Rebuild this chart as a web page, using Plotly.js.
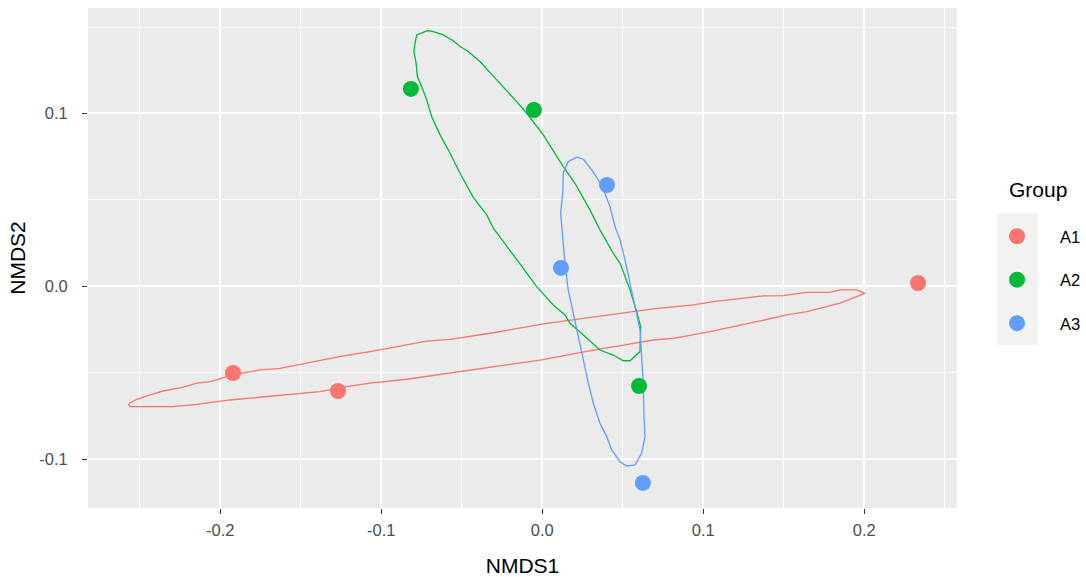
<!DOCTYPE html>
<html>
<head>
<meta charset="utf-8">
<script src="https://cdn.plot.ly/plotly-3.0.1.min.js"></script>
<style>html,body{margin:0;padding:0;background:#fff;}#chart{width:1086px;height:577px;}</style>
</head>
<body>
<div id="chart"></div>
<script>
// ---- Data ----
const groups = ["A1", "A2", "A3"];
const colors = ["#F8766D", "#00BA38", "#619CFF"];

const a1X = [-0.1921, -0.1269, 0.2334];
const a1Y = [-0.0502, -0.0606, 0.0019];
const a2X = [-0.0816, -0.0052, 0.0601];
const a2Y = [0.1142, 0.1020, -0.0577];
const a3X = [0.0402, 0.0116, 0.0625];
const a3Y = [0.0586, 0.0106, -0.1138];

// ellipse outlines (stat_ellipse)
const a1EllX = [-0.2571,-0.2519,-0.2416,-0.2354,-0.2230,-0.2147,-0.2064,-0.1919,-0.1753,-0.1629,-0.1443,-0.1236,-0.1070,-0.0718,-0.0573,-0.0304,0.0006,0.0276,0.0483,0.0689,0.0938,0.1062,0.1373,0.1497,0.1642,0.1787,0.1849,0.1953,0.2004,0.1932,0.1849,0.1642,0.1518,0.1332,0.1042,0.0814,0.0689,0.0503,0.0317,-0.0014,-0.0429,-0.0842,-0.1070,-0.1236,-0.1381,-0.1650,-0.1940,-0.2147,-0.2292,-0.2561,-0.2571];
const a1EllY = [-0.0681,-0.0654,-0.0623,-0.0606,-0.0584,-0.0561,-0.0552,-0.0513,-0.0484,-0.0475,-0.0440,-0.0403,-0.0378,-0.0318,-0.0307,-0.0269,-0.0218,-0.0185,-0.0156,-0.0131,-0.0108,-0.0089,-0.0056,-0.0054,-0.0035,-0.0035,-0.0021,-0.0021,-0.0041,-0.0069,-0.0098,-0.0147,-0.0166,-0.0205,-0.0263,-0.0301,-0.0311,-0.0340,-0.0369,-0.0427,-0.0484,-0.0538,-0.0561,-0.0584,-0.0610,-0.0633,-0.0658,-0.0683,-0.0697,-0.0697,-0.0681];

const a2EllX = [-0.0712,-0.0780,-0.0791,-0.0797,-0.0784,-0.0776,-0.0749,-0.0718,-0.0687,-0.0635,-0.0573,-0.0511,-0.0429,-0.0345,-0.0304,-0.0201,-0.0118,-0.0035,0.0068,0.0141,0.0172,0.0255,0.0358,0.0441,0.0503,0.0545,0.0607,0.0611,0.0586,0.0545,0.0483,0.0441,0.0358,0.0296,0.0245,0.0203,0.0130,0.0006,-0.0097,-0.0159,-0.0283,-0.0387,-0.0460,-0.0511,-0.0553,-0.0615,-0.0677,-0.0712];
const a2EllY = [0.1479,0.1454,0.1406,0.1358,0.1291,0.1213,0.1155,0.1078,0.0981,0.0876,0.0770,0.0654,0.0514,0.0413,0.0336,0.0210,0.0104,-0.0002,-0.0108,-0.0166,-0.0214,-0.0282,-0.0369,-0.0398,-0.0431,-0.0431,-0.0378,-0.0234,-0.0147,-0.0021,0.0133,0.0191,0.0326,0.0442,0.0528,0.0596,0.0692,0.0876,0.1001,0.1068,0.1194,0.1300,0.1358,0.1387,0.1421,0.1454,0.1473,0.1479];

const a3EllX = [0.0214,0.0255,0.0307,0.0348,0.0389,0.0420,0.0452,0.0483,0.0514,0.0545,0.0576,0.0607,0.0617,0.0627,0.0632,0.0638,0.0617,0.0576,0.0524,0.0483,0.0431,0.0400,0.0358,0.0317,0.0286,0.0255,0.0224,0.0193,0.0161,0.0141,0.0127,0.0114,0.0127,0.0130,0.0161,0.0214];
const a3EllY = [0.0747,0.0735,0.0673,0.0615,0.0538,0.0461,0.0345,0.0268,0.0152,0.0017,-0.0098,-0.0253,-0.0407,-0.0561,-0.0755,-0.0870,-0.0966,-0.1034,-0.1040,-0.1015,-0.0947,-0.0870,-0.0793,-0.0677,-0.0561,-0.0427,-0.0292,-0.0156,-0.0021,0.0133,0.0287,0.0422,0.0538,0.0654,0.0721,0.0747];

const xTickVals = [-0.2, -0.1, 0.0, 0.1, 0.2];
const xTickText = ["-0.2", "-0.1", "0.0", "0.1", "0.2"];
const yTickVals = [-0.1, 0.0, 0.1];
const yTickText = ["-0.1", "0.0", "0.1"];

// ---- Traces ----
const ptsX = [a1X, a2X, a3X];
const ptsY = [a1Y, a2Y, a3Y];
const ellX = [a1EllX, a2EllX, a3EllX];
const ellY = [a1EllY, a2EllY, a3EllY];

const traces = [];
groups.forEach((g, i) => {
  traces.push({
    type: "scatter", mode: "lines", x: ellX[i], y: ellY[i],
    line: {color: colors[i], width: 1.3}, showlegend: false, hoverinfo: "skip",
    legendgroup: g
  });
});
groups.forEach((g, i) => {
  traces.push({
    type: "scatter", mode: "markers", name: g, x: ptsX[i], y: ptsY[i],
    marker: {color: colors[i], size: 16, line: {width: 0}},
    legendgroup: g
  });
});

const FONT = "Liberation Sans, Arial, sans-serif";
const layout = {
  width: 1086, height: 577,
  margin: {l: 88, r: 129, t: 8, b: 69, autoexpand: false},
  paper_bgcolor: "#FFFFFF",
  plot_bgcolor: "#EBEBEB",
  font: {family: FONT, color: "#000000"},
  showlegend: true,
  xaxis: {
    range: [-0.2822, 0.2576], autorange: false,
    tickmode: "array", tickvals: xTickVals, ticktext: xTickText,
    ticks: "outside", ticklen: 5, tickwidth: 1, tickcolor: "#333333",
    ticklabelstandoff: 2,
    tickfont: {family: FONT, size: 16.5, color: "#4D4D4D"},
    showgrid: true, gridcolor: "#FFFFFF", gridwidth: 2,
    minor: {tickmode: "array", tickvals: [-0.25, -0.15, -0.05, 0.05, 0.15, 0.25], showgrid: true, gridcolor: "#FFFFFF", gridwidth: 1, ticks: ""},
    zeroline: false, showline: false,
    title: {text: "NMDS1", font: {family: FONT, size: 21, color: "#000000"}, standoff: 21},
    automargin: false
  },
  yaxis: {
    range: [-0.1283, 0.1610], autorange: false,
    tickmode: "array", tickvals: yTickVals, ticktext: yTickText,
    ticks: "outside", ticklen: 5, tickwidth: 1, tickcolor: "#333333",
    ticklabelstandoff: 11,
    tickfont: {family: FONT, size: 16.5, color: "#4D4D4D"},
    showgrid: true, gridcolor: "#FFFFFF", gridwidth: 2,
    minor: {tickmode: "array", tickvals: [-0.05, 0.05, 0.15], showgrid: true, gridcolor: "#FFFFFF", gridwidth: 1, ticks: ""},
    zeroline: false, showline: false,
    title: {text: "NMDS2", font: {family: FONT, size: 21, color: "#000000"}, standoff: 7},
    automargin: false
  },
  legend: {
    font: {family: FONT, size: 16.5, color: "#000000"},
    x: 1.0196, xanchor: "left", y: 0.578, yanchor: "top",
    bgcolor: "rgba(0,0,0,0)", borderwidth: 0,
    tracegroupgap: 19, itemsizing: "trace", itemwidth: 76
  },
  annotations: [{
    text: "Group", xref: "paper", yref: "paper", x: 1.0575, y: 0.638,
    xanchor: "left", yanchor: "middle", showarrow: false,
    font: {family: FONT, size: 21, color: "#000000"}
  }],
  shapes: [{
    type: "rect", xref: "paper", yref: "paper",
    x0: 1.046, x1: 1.0932, y0: 0.326, y1: 0.59,
    fillcolor: "#F2F2F2", line: {width: 0}, layer: "below"
  }]
};

Plotly.newPlot("chart", traces, layout, {displayModeBar: false, staticPlot: true});
</script>
</body>
</html>
